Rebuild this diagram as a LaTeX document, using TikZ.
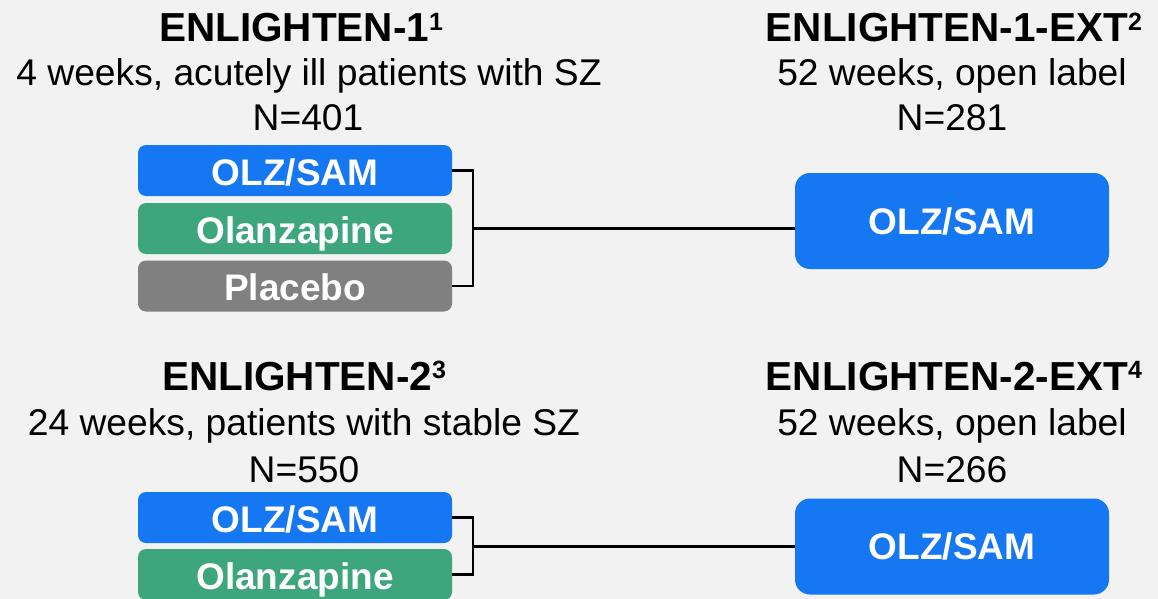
\documentclass[tikz,border=0pt]{standalone}
\usepackage{fontspec}
\setmainfont{Liberation Sans}
\definecolor{bg}{HTML}{F2F2F2}
\definecolor{olzblue}{HTML}{1677F2}
\definecolor{olzgreen}{HTML}{3EA67D}
\definecolor{olzgray}{HTML}{808080}
\newcommand{\supnum}[1]{\raisebox{11.5pt}{\fontsize{25}{25}\selectfont\bfseries #1}}
\tikzset{
  titletxt/.style={anchor=base, inner sep=0pt, font=\fontsize{40.5}{48}\selectfont\bfseries},
  subtxt/.style={anchor=base, inner sep=0pt, font=\fontsize{37.2}{44}\selectfont},
  armbox/.style={draw=none, rounded corners=8pt, minimum width=314pt, minimum height=51pt, inner sep=0pt,
     text height=29pt, text depth=0pt,
     text=white, font=\fontsize{37}{40}\selectfont\bfseries},
  extbox/.style={draw=none, rounded corners=15pt, minimum width=314pt, minimum height=96pt, inner sep=0pt,
     text height=26.5pt, text depth=0pt,
     fill=olzblue, text=white, font=\fontsize{37}{40}\selectfont\bfseries},
  link/.style={line width=2.4pt, black}
}
\begin{document}
\begin{tikzpicture}[x=1pt, y=-1pt]
\fill[bg] (0,0) rectangle (1158,599);
\useasboundingbox (0,0) rectangle (1158,599);

% --- Block 1 ---
\node[titletxt] (t1) at (301,42) {ENLIGHTEN-1\supnum{1}};
\node[subtxt] (s1) at (309,86) {4 weeks, acutely ill patients with SZ};
\node[subtxt] (n1) at (308,131) {N=401};
\node[titletxt] (t1e) at (954,42) {ENLIGHTEN-1-EXT\supnum{2}};
\node[subtxt] (s1e) at (952,86) {52 weeks, open label};
\node[subtxt] (n1e) at (952,131) {N=281};

\node[armbox, fill=olzblue] (a1) at (295,170.5) {OLZ/SAM};
\node[armbox, fill=olzgreen] (b1) at (295,228.5) {Olanzapine};
\node[armbox, fill=olzgray] (c1) at (295,286) {Placebo};
\node[extbox] (e1) at (952,221) {OLZ/SAM};

\coordinate (k1) at (473,228.5);
\draw[link] (a1.east) -| (k1) |- (c1.east);
\draw[link] (k1) -- (k1 -| e1.west);

% --- Block 2 ---
\node[titletxt] (t2) at (304,390) {ENLIGHTEN-2\supnum{3}};
\node[subtxt] (s2) at (304,435) {24 weeks, patients with stable SZ};
\node[subtxt] (n2) at (304,482) {N=550};
\node[titletxt] (t2e) at (954,390) {ENLIGHTEN-2-EXT\supnum{4}};
\node[subtxt] (s2e) at (952,435) {52 weeks, open label};
\node[subtxt] (n2e) at (952,482) {N=266};

\node[armbox, fill=olzblue] (a2) at (295,517.5) {OLZ/SAM};
\node[armbox, fill=olzgreen] (b2) at (295,574.5) {Olanzapine};
\node[extbox] (e2) at (952,546.5) {OLZ/SAM};

\coordinate (k2) at (473,546.5);
\draw[link] (a2.east) -| (k2) |- (b2.east);
\draw[link] (k2) -- (e2.west);
\end{tikzpicture}
\end{document}
